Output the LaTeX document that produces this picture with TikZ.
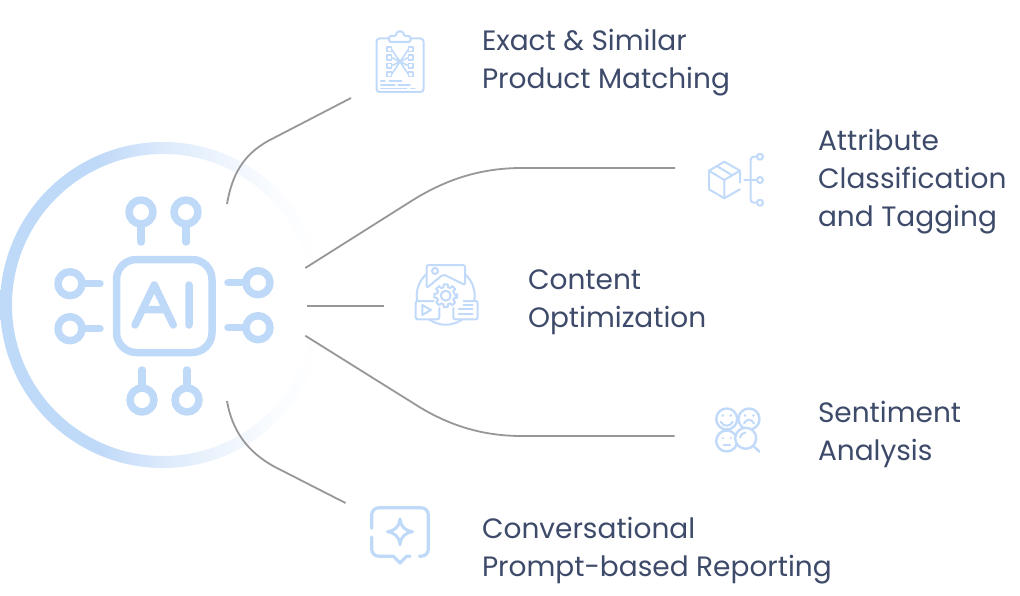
\documentclass[tikz,border=0pt]{standalone}
\usepackage{fontspec}
\setmainfont{Poppins}
\definecolor{ico}{HTML}{BFD9F8}
\definecolor{icl}{HTML}{C2DAF9}
\definecolor{txt}{HTML}{3D4A69}
\definecolor{lin}{HTML}{979797}
\pgfdeclarehorizontalshading{ringfade}{100bp}{color(0bp)=(ico); color(40bp)=(ico); color(50bp)=(ico!55!white); color(60bp)=(ico!25!white); color(67bp)=(ico!8!white); color(74bp)=(white); color(100bp)=(white)}
\tikzset{
  conn/.style={draw=lin,line width=1.8pt},
  chip/.style={draw=ico,line width=7.5pt,line cap=round,line join=round},
  thin icon/.style={draw=icl,line width=2pt,line cap=round,line join=round},
  lab/.style={anchor=north west,inner sep=0pt,outer sep=0pt,align=left,text=txt,font=\fontsize{28}{38}\selectfont},
}
\begin{document}
\begin{tikzpicture}[x=1pt,y=-1pt]
\useasboundingbox (0,0) rectangle (1020,596);
% ring
\shade[shading=ringfade,even odd rule] (163,305) circle[radius=163] (163,305) circle[radius=151];
% connector ends
\coordinate (h1) at (227,204); \coordinate (e1) at (351,98);
\coordinate (h2) at (305.3,268); \coordinate (e2) at (675,168);
\coordinate (h3) at (307,306); \coordinate (e3) at (384,306);
\coordinate (h4) at (305.3,335.7); \coordinate (e4) at (674.5,436);
\coordinate (h5) at (227,401); \coordinate (e5) at (345.5,503);
\draw[conn] (h1) .. controls (232,175) and (243,155) .. (268,141) -- (e1);
\draw[conn] (h2) -- (413,200) .. controls (450,177) and (485,168) .. (522,168) -- (e2);
\draw[conn] (h3) -- (e3);
\draw[conn] (h4) -- (413,403) .. controls (450,427) and (485,436) .. (522,436) -- (e4);
\draw[conn] (h5) .. controls (232,430) and (247,452) .. (275,467) -- (e5);
% chip
\draw[chip,rounded corners=20pt] (116.5,259.5) rectangle (212,352.5);
\draw[chip] (135,325) -- (154.3,285) -- (173.3,325) (142,309.5) -- (166,309.5) (189,285) -- (189,325);
\foreach \cx/\cy in {141/212,186/212,142/400,187/400,70/283.7,70/328.7,258/282.7,258/327.7}{
  \draw[chip] (\cx,\cy) circle[radius=12];
}
\draw[chip] (141,226) -- (141,242) (186,226) -- (186,242) (142,386) -- (142,370) (187,386) -- (187,370)
 (84,283.7) -- (100,283.7) (84,328.7) -- (100,328.7) (244,282.7) -- (228,282.7) (244,327.7) -- (228,327.7);
% icon 1 clipboard
\draw[thin icon,rounded corners=3pt] (389,38.5) -- (376.5,38.5) -- (376.5,92) -- (423.5,92) -- (423.5,38.5) -- (410,38.5);
\draw[thin icon,rounded corners=1.5pt] (389,42) -- (389,36) -- (396,36) -- (397,31.5) -- (403,31.5) -- (404,36) -- (410.5,36) -- (410.5,42) -- cycle;
\foreach \y in {49.3,57.5,65.8,74.3}{
  \draw[thin icon,line width=1.6pt] (386.8,\y-2.4) rectangle ++(4.8,4.8);
  \draw[thin icon,line width=1.6pt] (408.4,\y-2.4) rectangle ++(4.8,4.8);
}
\draw[thin icon,line width=1.6pt] (391.6,49.3) -- (408.4,74.3) (391.6,74.3) -- (408.4,49.3) (391.6,57.5) -- (408.4,65.8) (391.6,65.8) -- (408.4,57.5);
\draw[thin icon,line width=1.4pt] (380.7,81) -- (385,81) (389.3,81) -- (401.7,81) (380.7,85) -- (395,85) (398.3,85) -- (410,85) (380.7,88.7) -- (406.7,88.7) (410.7,88.7) -- (415,88.7);
% icon 2 cube
\draw[thin icon] (740,182.7) -- (740,170.7) -- (724.3,161.7) -- (709,170.7) -- (709,189.3) -- (724.3,198.3) -- (740,189.3);
\draw[thin icon] (709,170.7) -- (724.3,180) -- (740,170.7) (724.3,180) -- (724.3,198.3) (716.7,166) -- (732.3,175.3);
\draw[thin icon,rounded corners=3pt] (757,156.7) -- (750.7,156.7) -- (750.7,202.7) -- (757,202.7);
\draw[thin icon] (744.3,180) -- (757,180);
\foreach \y in {156.7,180,202.7}{\draw[thin icon] (760,\y) circle[radius=3];}
% icon 3 content
\draw[thin icon] (445.7,295.7) circle[radius=29];
\draw[thin icon,fill=white,rounded corners=2pt] (426.7,288) -- (426.7,265) -- (465,265) -- (465,285) -- (443.3,274.3) -- cycle;
\draw[thin icon] (435,271) circle[radius=3];
\begin{scope}[shift={(445.7,295.7)}]
\draw[thin icon,fill=white] (10:11.6) \foreach \a in {0,45,...,315}{ -- (\a-10:11.6) -- (\a+10:11.6) -- (\a+15:8.8) -- (\a+30:8.8)} -- cycle;
\draw[thin icon] (0,0) circle[radius=5];
\end{scope}
\draw[thin icon,fill=white,rounded corners=2pt] (433.5,301) -- (415.7,301) -- (415.7,319.3) -- (439.3,319.3) -- (439.3,308);
\draw[thin icon] (422.3,305) -- (422.3,315) -- (431,310) -- cycle;
\draw[thin icon,fill=white,rounded corners=2pt] (463.5,301) -- (477.7,301) -- (477.7,319.3) -- (453.3,319.3) -- (453.3,308);
\draw[thin icon] (463.5,304.5) -- (472.5,304.5) (458.5,309) -- (472.5,309) (458.5,313.5) -- (472.5,313.5);
% icon 4 faces
\foreach \x/\y in {726.7/419,749/419,726.7/441}{\draw[thin icon,line width=2.4pt] (\x,\y) circle[radius=10.5];}
\draw[thin icon,line width=2.4pt,fill=white] (745.7,438.3) circle[radius=10.5];
\draw[thin icon,line width=2.4pt] (753.5,446) -- (759.3,451.7);
\draw[thin icon,line width=2.4pt] (722.7,415.5) -- (722.9,415.5) (730.7,415.5) -- (730.9,415.5) (745,415.5) -- (745.2,415.5) (753.3,415.5) -- (753.5,415.5) (722.7,437.7) -- (722.9,437.7) (730.7,437.7) -- (730.9,437.7);
\draw[thin icon] (720.7,421.7) .. controls (723,427) and (730.5,427) .. (732.7,421.7);
\draw[thin icon] (744,423.5) .. controls (746,418.5) and (752,418.5) .. (754,423.5);
\draw[thin icon] (723.5,444.5) -- (730,444.5);
\draw[thin icon] (740,437.5) .. controls (740.5,434.5) and (742.5,433) .. (745.5,432.5);
% icon 5 bubble
\draw[chip,line width=3.2pt,rounded corners=7pt] (371.7,528.3) -- (371.7,507.8) -- (428.3,507.8) -- (428.3,556.2) -- (419.3,556.2);
\draw[chip,line width=3.2pt,rounded corners=7pt] (371.7,537) -- (371.7,556.2) -- (390,556.2);
\draw[chip,line width=3.2pt] (390,556.2) -- (393.3,556.2) -- (400,563) -- (406.7,556.2) -- (410,556.2);
\draw[chip,line width=3pt,fill=white] (400,519) .. controls (401,527) and (405,530.5) .. (412.5,531.7) .. controls (405,533) and (401,536.5) .. (400,544.5) .. controls (399,536.5) and (395,533) .. (387.5,531.7) .. controls (395,530.5) and (399,527) .. (400,519) -- cycle;
% labels
\node[lab] (t1) at (482,29.5) {Exact \& Similar\\Product Matching};
\node[lab] (t2) at (818,129.5) {Attribute\\Classification\\and Tagging};
\node[lab] (t3) at (528,270) {Content\\Optimization};
\node[lab] (t4) at (818,401.5) {Sentiment\\Analysis};
\node[lab] (t5) at (482,517.5) {Conversational\\Prompt-based Reporting};
\end{tikzpicture}
\end{document}
